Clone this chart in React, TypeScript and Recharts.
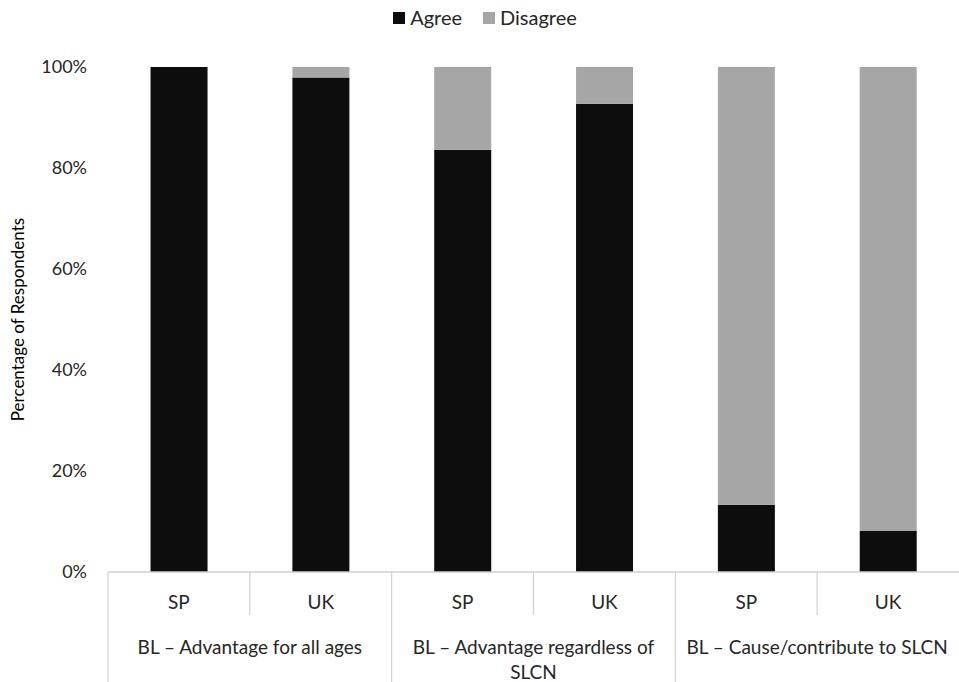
import React from 'react';
import { BarChart, Bar, XAxis, YAxis, Legend } from 'recharts';

// Respondent groups and statements
const countries = ['SP', 'UK', 'SP', 'UK', 'SP', 'UK'];
const statements = [
  'BL \u2013 Advantage for all ages',
  'BL \u2013 Advantage regardless of SLCN',
  'BL \u2013 Cause/contribute to SLCN',
];
// Share of respondents (%)
const agree = [100, 97.9, 83.6, 92.7, 13.3, 8.1];
const disagree = [0, 2.1, 16.4, 7.3, 86.7, 91.9];
const yTicks = [0, 20, 40, 60, 80, 100];

const data = countries.map((c, i) => ({
  key: `${c}-${i}`,
  country: c,
  statement: statements[Math.floor(i / 2)],
  Agree: agree[i],
  Disagree: disagree[i],
}));

const W = 959;
const H = 682;
const LEGEND_H = 21;
const M = { top: 67 - LEGEND_H, right: 0, bottom: 0, left: 0 };
const Y_AXIS_W = 108;
const PLOT_W = W - M.left - M.right - Y_AXIS_W;
const BAND = PLOT_W / countries.length;
const AXIS_H = 110;
const FONT = 'Lato, "Liberation Sans", sans-serif';
const LABEL_PX = 19;
const LINE = '#d0d0d0';
const TEXT = '#262626';

// Greedy word wrap using canvas text metrics
let measureCtx: CanvasRenderingContext2D | null = null;
function wrapWords(text: string, maxWidth: number): string[] {
  if (!measureCtx && typeof document !== 'undefined') {
    measureCtx = document.createElement('canvas').getContext('2d');
  }
  const measure = (s: string) => {
    if (!measureCtx) return s.length * LABEL_PX * 0.5;
    measureCtx.font = `${LABEL_PX}px ${FONT}`;
    return measureCtx.measureText(s).width;
  };
  const words = text.split(' ');
  const lines: string[] = [];
  let cur = '';
  for (const w of words) {
    const next = cur ? `${cur} ${w}` : w;
    if (cur && measure(next) > maxWidth) {
      lines.push(cur);
      cur = w;
    } else {
      cur = next;
    }
  }
  if (cur) lines.push(cur);
  return lines;
}

const CategoryTick = (props: any) => {
  const { x, y, payload } = props;
  const i = payload.index;
  const left = x - BAND / 2;
  const axisY = y - 8;
  const bottom = axisY + AXIS_H;
  const row = data[i];
  const lines = i % 2 === 0 ? wrapWords(row.statement, BAND * 2 - 16) : [];
  return (
    <g>
      <text
        x={x}
        y={axisY + 29}
        textAnchor="middle"
        dominantBaseline="central"
        fill={TEXT}
        fontSize={LABEL_PX}
        fontFamily={FONT}
      >
        {row.country}
      </text>
      {i % 2 === 0 ? (
        <>
          <line x1={left} x2={left} y1={axisY} y2={bottom} stroke={LINE} strokeWidth={1.2} />
          <text
            x={x + BAND / 2}
            y={axisY + 74}
            textAnchor="middle"
            dominantBaseline="central"
            fill={TEXT}
            fontSize={LABEL_PX}
            fontFamily={FONT}
          >
            {lines.map((ln, k) => (
              <tspan key={k} x={x + BAND / 2} dy={k === 0 ? 0 : 25}>
                {ln}
              </tspan>
            ))}
          </text>
        </>
      ) : (
        <line x1={left} x2={left} y1={axisY} y2={axisY + 43} stroke={LINE} strokeWidth={1.2} />
      )}
    </g>
  );
};

const LegendContent = (props: any) => {
  const items = props.payload || [];
  return (
    <div style={{ display: 'flex', justifyContent: 'center', alignItems: 'center', height: LEGEND_H }}>
      {items.map((it: any, k: number) => (
        <div key={it.value} style={{ display: 'flex', alignItems: 'center', marginLeft: k === 0 ? 0 : 21 }}>
          <span style={{ width: 12, height: 12, background: it.color, display: 'inline-block', marginRight: 5 }} />
          <span style={{ color: TEXT, fontSize: 20, fontFamily: FONT, lineHeight: '21px' }}>{it.value}</span>
        </div>
      ))}
    </div>
  );
};

export default function App() {
  return (
    <div style={{ position: 'absolute', left: 0, top: 0, width: W, height: H, background: '#fff' }}>
      <BarChart
        width={W}
        height={H}
        data={data}
        margin={M}
        barCategoryGap="30%"
        style={{ fontFamily: FONT }}
      >
        <Legend
          verticalAlign="top"
          align="center"
          height={LEGEND_H}
          content={<LegendContent />}
          wrapperStyle={{ top: 7, left: 11, width: W - 11 }}
        />
        <XAxis
          dataKey="key"
          height={AXIS_H}
          interval={0}
          tickLine={false}
          axisLine={{ stroke: LINE, strokeWidth: 1.5 }}
          tick={<CategoryTick />}
        />
        <YAxis
          width={Y_AXIS_W}
          domain={[0, 100]}
          ticks={yTicks}
          interval={0}
          axisLine={false}
          tickLine={false}
          tickSize={0}
          tickMargin={21}
          tickFormatter={(v: number) => `${v}%`}
          tick={{ fill: TEXT, fontSize: 18, fontFamily: FONT }}
          label={{
            value: 'Percentage of Respondents',
            angle: -90,
            position: 'insideLeft',
            offset: 18,
            style: { textAnchor: 'middle', fill: '#000', fontSize: 17, fontFamily: FONT },
          }}
        />
        <Bar dataKey="Agree" stackId="a" fill="#0d0d0d" isAnimationActive={false} />
        <Bar dataKey="Disagree" stackId="a" fill="#a6a6a6" isAnimationActive={false} />
      </BarChart>
    </div>
  );
}
